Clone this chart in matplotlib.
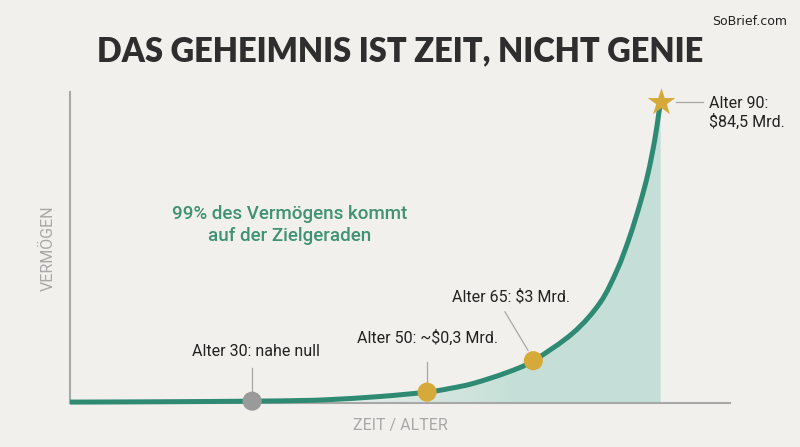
import matplotlib.pyplot as plt
import numpy as np
from matplotlib.path import Path
from matplotlib.patches import PathPatch

# curve (time axis 0..100, wealth axis 0..100, illustrative units)
curve_t = [0, 13.6, 27.6, 34.8, 39.4, 47.0, 54.1, 57.6, 61.1, 66.2, 70.2, 76.2,
           80.3, 82.9, 84.8, 86.4, 87.6, 88.6, 89.2, 89.5]
curve_y = [0.3, 0.4, 0.6, 0.8, 1.1, 2.1, 3.5, 4.7, 6.3, 9.8, 13.6, 22.5,
           32.2, 42.8, 53.4, 64.3, 74.0, 84.6, 93.0, 96.8]

# milestones
mile_t = [27.6, 54.1, 70.2]
mile_y = [0.6, 3.5, 13.6]
mile_col = ["#9a9a9a", "#d6aa3a", "#d6aa3a"]
mile_lbl = ["Alter 30: nahe null", "Alter 50: ~$0,3 Mrd.", "Alter 65: $3 Mrd."]
star_t, star_y = 89.5, 96.8
star_lbl = "Alter 90:\n$84,5 Mrd."

bg = "#f1f0ec"
teal = "#2f8a74"


def smooth_path(xs, ys):
    # catmull-rom through the read points, drawn as cubic beziers
    p = np.column_stack([xs, ys])
    pts = [p[0]]
    codes = [Path.MOVETO]
    n = len(p)
    for i in range(n - 1):
        p0 = p[max(i - 1, 0)]
        p1, p2 = p[i], p[i + 1]
        p3 = p[min(i + 2, n - 1)]
        pts += [p1 + (p2 - p0) / 6, p2 - (p3 - p1) / 6, p2]
        codes += [Path.CURVE4] * 3
    return np.array(pts), codes


fig = plt.figure(figsize=(8, 4.47), dpi=100, facecolor=bg)
ax = fig.add_axes([0.0875, 0.0984, 0.825, 0.696])
ax.set_facecolor(bg)
ax.set_xlim(0, 100)
ax.set_ylim(0, 100)

verts, codes = smooth_path(curve_t, curve_y)

# gradient fill under the curve
grad = np.linspace(0, 1, 256)
alpha = np.clip((grad - 0.40) / 0.35, 0, 1) * 0.95
img = np.zeros((2, 256, 4))
img[..., 0] = 0xc3 / 255
img[..., 1] = 0xdf / 255
img[..., 2] = 0xd7 / 255
img[..., 3] = alpha
im = ax.imshow(img, extent=[0, star_t, 0, 100], aspect="auto", origin="lower", zorder=1)
clip = Path(np.vstack([[[0, 0]], verts, [[star_t, 0], [0, 0]]]),
            [Path.MOVETO, Path.LINETO] + codes[1:] + [Path.LINETO, Path.CLOSEPOLY])
im.set_clip_path(clip, transform=ax.transData)

ax.add_patch(PathPatch(Path(verts, codes), fill=False, edgecolor=teal, lw=3.6,
                       capstyle="butt", zorder=3, clip_on=False))

for sp in ["top", "right"]:
    ax.spines[sp].set_visible(False)
for sp in ["left", "bottom"]:
    ax.spines[sp].set_color("#a8a8a8")
    ax.spines[sp].set_linewidth(1.5)
ax.set_xticks([])
ax.set_yticks([])

# markers
ax.scatter(mile_t, mile_y, s=190, c=mile_col, zorder=5, clip_on=False, linewidths=0)
ax.scatter([star_t], [star_y], s=430, marker="*", c="#d6aa3a", zorder=5, clip_on=False, linewidths=0)

# leader lines
lc = "#a8a8a8"
ax.plot([27.6, 27.6], [11.3, 3.2], color=lc, lw=0.9, zorder=2)
ax.plot([54.1, 54.1], [13.2, 6.6], color=lc, lw=0.9, zorder=2)
ax.plot([65.9, 69.4], [29.3, 16.9], color=lc, lw=0.9, zorder=2)
ax.plot([91.8, 95.9], [96.8, 96.8], color=lc, lw=0.9, zorder=2, clip_on=False)

tf = dict(family=["Roboto", "DejaVu Sans"], fontsize=11.5, color="#222222")
ax.text(28.2, 16.4, mile_lbl[0], ha="center", va="center", **tf)
ax.text(54.1, 20.9, mile_lbl[1], ha="center", va="center", **tf)
ax.text(66.8, 34.1, mile_lbl[2], ha="center", va="center", **tf)
ax.text(96.8, 93.2, star_lbl, ha="left", va="center", linespacing=1.25, clip_on=False, **tf)

ax.text(33.3, 57.2, "99% des Vermögens kommt\nauf der Zielgeraden", ha="center", va="center",
        family=["Roboto", "DejaVu Sans"], fontweight="medium", fontsize=13.5,
        color="#3f9274", linespacing=1.3)

fig.text(0.06, 0.445, "VERMÖGEN", rotation=90, ha="center", va="center",
         family=["Roboto", "DejaVu Sans"], fontsize=11.5, color="#a8a8a8")
fig.text(0.5, 0.047, "ZEIT / ALTER", ha="center", va="center",
         family=["Roboto", "DejaVu Sans"], fontsize=11.5, color="#a8a8a8")

fig.text(0.5, 0.885, "DAS GEHEIMNIS IST ZEIT, NICHT GENIE", ha="center", va="center",
         family=["Lato", "DejaVu Sans"], fontweight="heavy", fontsize=23.5, color="#2e2e2e")
fig.text(0.984, 0.951, "SoBrief.com", ha="right", va="center",
         family=["Liberation Sans Narrow", "DejaVu Sans"], fontsize=9, color="#222222")

fig.savefig("out.png", dpi=100, facecolor=bg)
